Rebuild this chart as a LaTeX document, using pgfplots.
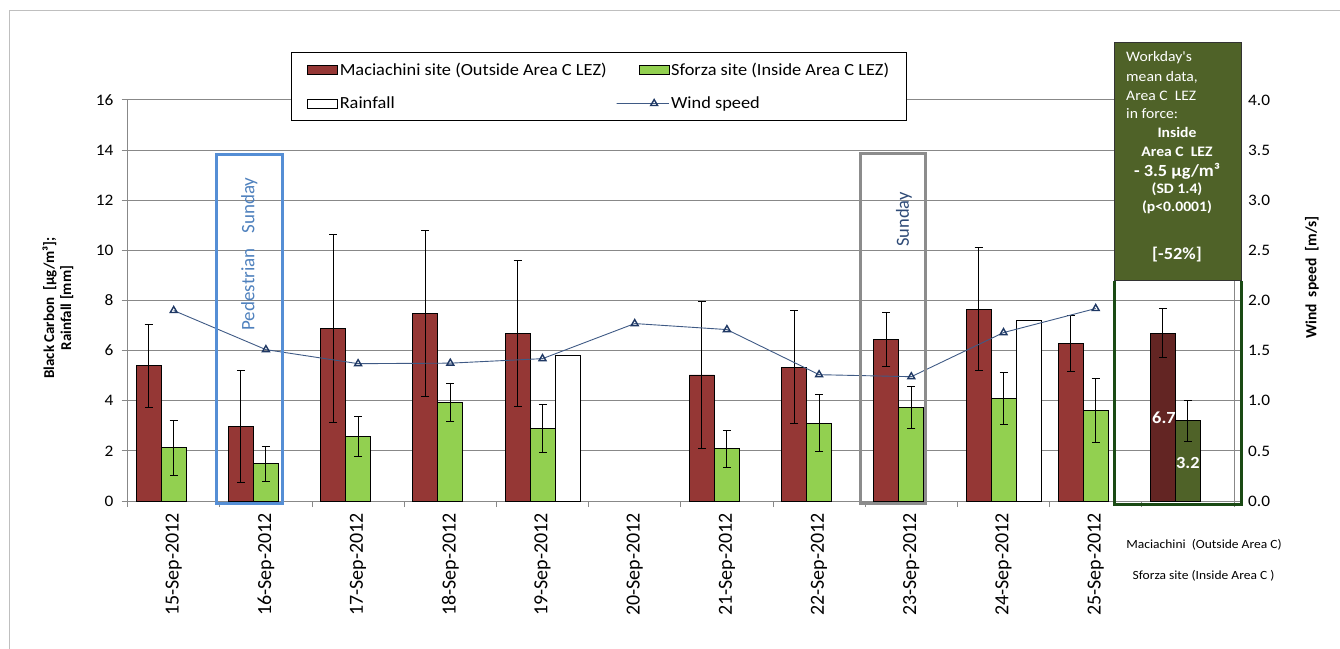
\documentclass[border=0pt]{standalone}
\usepackage{pgfplots}
\pgfplotsset{compat=1.18}
\usepackage{fontspec}
\setmainfont{Carlito}
\newfontfamily\hfont{Carlito}[FakeStretch=1.08]
\definecolor{maroon}{HTML}{953735}
\definecolor{lgreen}{HTML}{92D050}
\definecolor{dmaroon}{HTML}{632523}
\definecolor{olive}{HTML}{4F6228}
\definecolor{gridc}{HTML}{888888}
\definecolor{windl}{HTML}{3F5A85}
\definecolor{windm}{HTML}{1F3864}
\definecolor{boxblue}{HTML}{558ED5}
\definecolor{boxgray}{HTML}{8C8C8C}
\definecolor{dkgreen}{HTML}{1A4A14}
\definecolor{txtblue}{HTML}{4F81BD}
\definecolor{txtnavy}{HTML}{2E4A76}
\pgfplotsset{
  barleg/.style={legend image code/.code={\draw[##1] (0pt,-4.5pt) rectangle (30pt,4.5pt);}},
  windleg/.style={legend image code/.code={\draw[##1, mark=none] (0pt,0pt) -- (30pt,0pt);
    \draw[##1] plot coordinates {(15pt,0pt)};}},
  windstyle/.style={windl, line width=0.9pt, mark=triangle, mark size=4pt,
    mark options={windm, line width=1.4pt, fill=white, solid}},
  errs/.style={error bars/.cd, y dir=both, y explicit,
    error bar style={black, line width=0.9pt},
    error mark options={rotate=90, mark size=4pt, black, line width=0.9pt}, /pgfplots/.cd},
  geom/.style={at={(127.6pt,147pt)}, anchor=south west, scale only axis,
    width=1106.4pt, height=401pt, xmin=-0.5, xmax=11.5},
}
\begin{document}
\begin{tikzpicture}[x=1pt,y=1pt]
\path[use as bounding box] (0,0) rectangle (1340,648);
\draw[color=black!25, line width=1.5pt] (9.5,-10) -- (9.5,637.5) -- (1350,637.5);

\begin{axis}[geom,
  ybar=0pt, bar width=25pt,
  ymin=0, ymax=16,
  axis x line*=bottom, axis y line*=left,
  axis line style={gridc, line width=1pt},
  tick align=outside, major tick length=6pt,
  tick style={gridc, line width=1pt},
  ytick={0,2,...,16}, ymajorgrids, major grid style={gridc, line width=1pt},
  xtick={-0.5,0.5,...,11.5}, x tick label as interval,
  xticklabels={15-Sep-2012,16-Sep-2012,17-Sep-2012,18-Sep-2012,19-Sep-2012,20-Sep-2012,21-Sep-2012,22-Sep-2012,23-Sep-2012,24-Sep-2012,25-Sep-2012,{}},
  xticklabel style={rotate=90, anchor=east, inner sep=0pt, xshift=2pt, font=\fontsize{20}{22}\selectfont},
  xticklabel shift=8pt,
  yticklabel style={inner sep=0pt, font=\hfont\fontsize{16}{18}\selectfont},
  yticklabel shift=8pt,
  /pgf/number format/assume math mode=true,
  legend columns=2,
  legend cell align=left,
  legend style={at={(rel axis cs:0.1477,1.1197)}, anchor=north west,
    draw=black, line width=0.9pt, fill=white,
    font=\hfont\fontsize{17}{20}\selectfont,
    inner xsep=16pt, inner ysep=9pt, row sep=17pt,
    nodes={inner sep=1.5pt, text depth=0.15em},
    /tikz/every even column/.append style={column sep=8pt}},
]
\addplot[fill=maroon, draw=black, line width=0.8pt, barleg, errs]
 coordinates {(0,5.40) +- (0,1.65) (1,2.97) +- (0,2.23) (2,6.90) +- (0,3.75) (3,7.48) +- (0,3.32)
  (4,6.68) +- (0,2.90) (6,5.03) +- (0,2.92) (7,5.34) +- (0,2.25) (8,6.44) +- (0,1.09)
  (9,7.66) +- (0,2.46) (10,6.29) +- (0,1.13)};
\addlegendentry{Maciachini site (Outside Area C LEZ)}
\addplot[fill=lgreen, draw=black, line width=0.8pt, barleg, errs]
 coordinates {(0,2.13) +- (0,1.10) (1,1.49) +- (0,0.70) (2,2.57) +- (0,0.80) (3,3.94) +- (0,0.77)
  (4,2.89) +- (0,0.95) (6,2.08) +- (0,0.74) (7,3.11) +- (0,1.13) (8,3.72) +- (0,0.84)
  (9,4.09) +- (0,1.05) (10,3.61) +- (0,1.28)};
\addlegendentry{Sforza site (Inside Area C LEZ)}
\addplot[fill=white, draw=black, line width=0.8pt, barleg]
 coordinates {(4,5.80) (9,7.21)};
\addlegendentry{Rainfall}
\addlegendimage{windstyle, windleg}
\addlegendentry{Wind speed}
\end{axis}

\begin{axis}[geom,
  ymin=0, ymax=4,
  axis x line=none, axis y line*=right,
  axis line style={gridc, line width=1pt},
  tick align=outside, major tick length=6pt,
  tick style={gridc, line width=1pt},
  ytick={0,0.5,...,4},
  yticklabel style={inner sep=0pt, font=\hfont\fontsize{16}{18}\selectfont,
    /pgf/number format/.cd, fixed, fixed zerofill, precision=1},
  yticklabel shift=8pt,
  /pgf/number format/assume math mode=true,
]
\addplot[windstyle]
 coordinates {(0,1.90) (1,1.51) (2,1.37) (3,1.375) (4,1.42) (5,1.77) (6,1.71)
  (7,1.26) (8,1.24) (9,1.68) (10,1.92)};
\end{axis}

% annotation boxes
\draw[boxblue, line width=3pt] (216,145) rectangle (282,493);
\draw[boxgray, line width=3pt] (860,145) rectangle (925.7,494.7);
\node[rotate=90, txtblue, font=\fontsize{19}{20}\selectfont] at (249.3,394) {Pedestrian\hspace{15pt}Sunday};
\node[rotate=90, txtnavy, font=\fontsize{18.5}{20}\selectfont] at (904,428.5) {Sunday};

\fill[olive] (1114.7,605) rectangle (1241.7,367.3);
\draw[black!80, line width=1pt] (1114.7,605) rectangle (1241.7,367.3);
\draw[dkgreen, line width=3pt] (1114.7,367.3) -- (1114.7,144) -- (1241.7,144) -- (1241.7,367.3);

% summary bars (workday means)
\begin{axis}[geom, hide axis, ymin=0, ymax=16, ybar=0pt, bar width=25pt]
\addplot[fill=dmaroon, draw=black, line width=0.8pt, errs]
 coordinates {(11,6.70) +- (0,0.97)};
\addplot[fill=olive, draw=black, line width=0.8pt, errs]
 coordinates {(11,3.20) +- (0,0.82)};
\addplot[draw=none, fill=none] coordinates {(11,0)};
\node[white, font=\hfont\bfseries\fontsize{17}{18}\selectfont] at (axis cs:10.74,3.31) {6.7};
\node[white, font=\hfont\bfseries\fontsize{17}{18}\selectfont] at (axis cs:11.0,1.52) {3.2};
\end{axis}

\begin{scope}[every node/.style={white, inner sep=0pt, font=\hfont\fontsize{14.5}{16}\selectfont}]
\node[anchor=west] at (1126,590) {Workday's};
\node[anchor=west] at (1126,571) {mean data,};
\node[anchor=west] at (1126,552.5) {Area C\ \ LEZ};
\node[anchor=west] at (1126,534) {in force:};
\node[font=\hfont\bfseries\fontsize{14.5}{16}\selectfont] at (1177,516) {Inside};
\node[font=\hfont\bfseries\fontsize{14.5}{16}\selectfont] at (1177,496) {Area C\ \ LEZ};
\node[font=\hfont\bfseries\fontsize{17}{18}\selectfont] at (1177,477) {- 3.5 µg/m³};
\node[font=\hfont\bfseries\fontsize{14.5}{16}\selectfont] at (1177,459) {(SD 1.4)};
\node[font=\hfont\bfseries\fontsize{14.5}{16}\selectfont] at (1177,441) {(p<0.0001)};
\node[font=\hfont\bfseries\fontsize{17}{18}\selectfont] at (1177,393) {[-52\%]};
\end{scope}

% axis titles and side labels
\node[rotate=90, align=center, font=\bfseries\fontsize{15}{17}\selectfont] at (58,340) {Black Carbon\ \ [µg/m³];\\Rainfall [mm]};
\node[rotate=90, font=\bfseries\fontsize{15.5}{17}\selectfont] at (1312,370.5) {Wind\ \ speed\ \ [m/s]};
\node[font=\hfont\fontsize{12.5}{14}\selectfont] at (1204,103) {Maciachini\ \ (Outside Area C)};
\node[font=\hfont\fontsize{12.5}{14}\selectfont] at (1203.5,72) {Sforza site (Inside Area C )};
\end{tikzpicture}
\end{document}
